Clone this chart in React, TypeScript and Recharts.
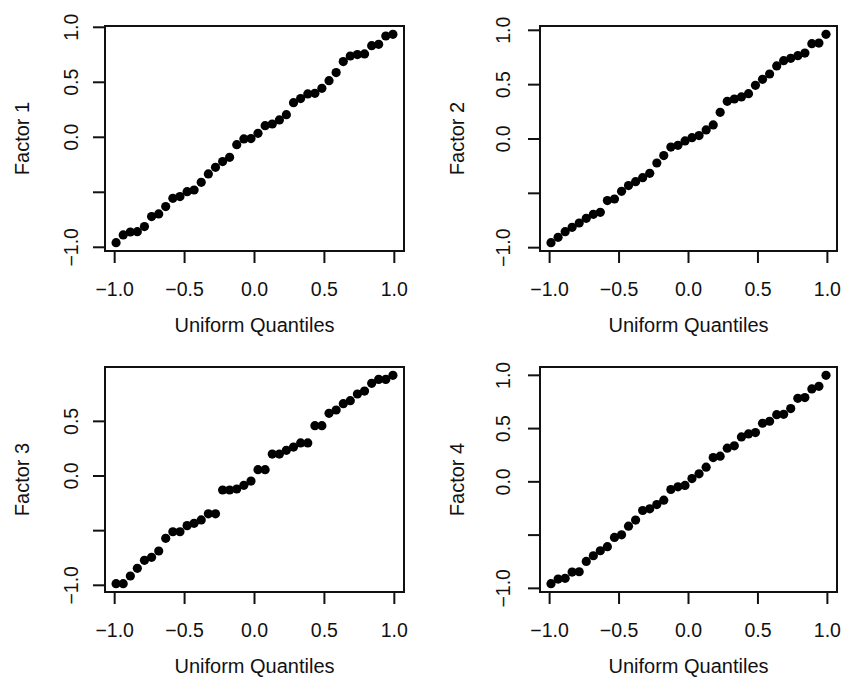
import React from 'react';
import { ScatterChart, Scatter, XAxis, YAxis, ReferenceArea } from 'recharts';

// uniform quantiles shared by all four panels
const quantiles = [
  -0.99, -0.939, -0.888, -0.838, -0.787, -0.736, -0.685, -0.635, -0.584, -0.533,
  -0.482, -0.432, -0.381, -0.33, -0.279, -0.228, -0.178, -0.127, -0.076, -0.025,
  0.025, 0.076, 0.127, 0.178, 0.228, 0.279, 0.33, 0.381, 0.432, 0.482,
  0.533, 0.584, 0.635, 0.685, 0.736, 0.787, 0.838, 0.888, 0.939, 0.99,
];

const factor1 = [
  -0.958, -0.888, -0.861, -0.858, -0.812, -0.721, -0.697, -0.63, -0.555, -0.539,
  -0.494, -0.479, -0.409, -0.333, -0.273, -0.221, -0.182, -0.067, -0.015, -0.012,
  0.036, 0.106, 0.121, 0.158, 0.206, 0.315, 0.352, 0.394, 0.4, 0.445,
  0.515, 0.588, 0.688, 0.739, 0.752, 0.758, 0.833, 0.845, 0.921, 0.936,
];

const factor2 = [
  -0.954, -0.905, -0.853, -0.813, -0.773, -0.73, -0.693, -0.675, -0.567, -0.552,
  -0.482, -0.429, -0.393, -0.356, -0.316, -0.221, -0.153, -0.074, -0.058, -0.018,
  0.012, 0.031, 0.083, 0.129, 0.245, 0.347, 0.368, 0.387, 0.417, 0.494,
  0.549, 0.598, 0.672, 0.721, 0.742, 0.767, 0.791, 0.877, 0.883, 0.963,
];

const factor3 = [
  -0.985, -0.985, -0.915, -0.845, -0.771, -0.744, -0.686, -0.57, -0.51, -0.51,
  -0.454, -0.433, -0.402, -0.346, -0.346, -0.128, -0.128, -0.119, -0.085, -0.046,
  0.058, 0.058, 0.201, 0.201, 0.235, 0.265, 0.303, 0.303, 0.46, 0.46,
  0.573, 0.604, 0.662, 0.689, 0.75, 0.777, 0.848, 0.884, 0.884, 0.921,
];

const factor4 = [
  -0.956, -0.913, -0.906, -0.847, -0.844, -0.747, -0.694, -0.647, -0.609, -0.522,
  -0.497, -0.416, -0.359, -0.269, -0.253, -0.213, -0.172, -0.072, -0.047, -0.034,
  0.031, 0.075, 0.138, 0.228, 0.241, 0.316, 0.338, 0.422, 0.45, 0.463,
  0.55, 0.569, 0.631, 0.634, 0.688, 0.784, 0.791, 0.872, 0.897, 1.0,
];

const xTicks = [-1, -0.5, 0, 0.5, 1];
const xTickLabels = ['\u22121.0', '\u22120.5', '0.0', '0.5', '1.0'];
const yTicks = [-1, -0.5, 0, 0.5, 1];
const yTickLabels = ['\u22121.0', '', '0.0', '0.5', '1.0'];

const FONT = '"Liberation Sans", Arial, Helvetica, sans-serif';
const INK = '#111';

// R-style axis range: data range plus 4% at each end
const padRange = (v: number[]): [number, number] => {
  const lo = Math.min(...v);
  const hi = Math.max(...v);
  const d = (hi - lo) * 0.04;
  return [lo - d, hi + d];
};

const XTick = (props: any) => {
  const { x, y, payload } = props;
  const label = xTickLabels[xTicks.indexOf(payload.value)];
  return (
    <text x={x} y={y} dy="0.35em" textAnchor="middle" fontSize={19.5} fontFamily={FONT} fill={INK}>
      {label}
    </text>
  );
};

const YTick = (props: any) => {
  const { x, y, payload } = props;
  const label = yTickLabels[yTicks.indexOf(payload.value)];
  return (
    <text
      x={x}
      y={y}
      dy="0.35em"
      textAnchor="middle"
      transform={`rotate(-90 ${x} ${y})`}
      fontSize={19.5}
      fontFamily={FONT}
      fill={INK}
    >
      {label}
    </text>
  );
};

const Dot = (props: any) => <circle cx={props.cx} cy={props.cy} r={4.6} fill="#000" />;

interface PanelProps {
  title: string;
  values: number[];
  left: number;
  top: number;
  axisWidth: number;
  plotWidth: number;
  labelGap: number;
}

const Panel: React.FC<PanelProps> = ({ title, values, left, top, axisWidth, plotWidth, labelGap }) => {
  const data = quantiles.map((q, i) => ({ x: q, y: values[i] }));
  const xDomain = padRange(quantiles);
  const yDomain = padRange(values);
  const ticksY = yTicks.filter((t) => t >= yDomain[0] && t <= yDomain[1]);
  const plotHeight = 225;
  const xAxisHeight = 90;
  const marginTop = 26;
  const marginRight = 8;
  const width = axisWidth + plotWidth + marginRight;
  const height = marginTop + plotHeight + xAxisHeight;

  return (
    <div style={{ position: 'absolute', left, top }}>
      <ScatterChart width={width} height={height} margin={{ top: marginTop, right: marginRight, bottom: 0, left: 0 }}>
        <XAxis
          type="number"
          dataKey="x"
          domain={xDomain}
          ticks={xTicks}
          interval={0}
          axisLine={false}
          tickSize={12}
          tickMargin={26}
          tickLine={{ stroke: INK, strokeWidth: 2 }}
          tick={<XTick />}
          height={xAxisHeight}
          label={{
            content: (p: any) => {
              const vb = p.viewBox;
              return (
                <text
                  x={vb.x + vb.width / 2}
                  y={vb.y + 74}
                  dy="0.35em"
                  textAnchor="middle"
                  fontSize={20}
                  fontFamily={FONT}
                  fill={INK}
                >
                  Uniform Quantiles
                </text>
              );
            },
          }}
        />
        <YAxis
          type="number"
          dataKey="y"
          domain={yDomain}
          ticks={ticksY}
          interval={0}
          axisLine={false}
          tickSize={12}
          tickMargin={labelGap - 12}
          tickLine={{ stroke: INK, strokeWidth: 2 }}
          tick={<YTick />}
          width={axisWidth}
          label={{
            content: (p: any) => {
              const vb = p.viewBox;
              const cx = vb.x + vb.width - 83;
              const cy = vb.y + vb.height / 2;
              return (
                <text
                  x={cx}
                  y={cy}
                  dy="0.35em"
                  textAnchor="middle"
                  transform={`rotate(-90 ${cx} ${cy})`}
                  fontSize={20}
                  fontFamily={FONT}
                  fill={INK}
                >
                  {title}
                </text>
              );
            },
          }}
        />
        <ReferenceArea
          x1={xDomain[0]}
          x2={xDomain[1]}
          y1={yDomain[0]}
          y2={yDomain[1]}
          fill="none"
          stroke={INK}
          strokeWidth={2}
          ifOverflow="visible"
        />
        <Scatter data={data} shape={<Dot />} isAnimationActive={false} />
      </ScatterChart>
    </div>
  );
}

export default function App() {
  return (
    <div style={{ position: 'absolute', left: 0, top: 0, width: 845, height: 686, background: '#fff' }}>
      <Panel title="Factor 1" values={factor1} left={0} top={0} axisWidth={105} plotWidth={299} labelGap={34} />
      <Panel title="Factor 2" values={factor2} left={422} top={0} axisWidth={118} plotWidth={297} labelGap={37} />
      <Panel title="Factor 3" values={factor3} left={0} top={341} axisWidth={105} plotWidth={299} labelGap={34} />
      <Panel title="Factor 4" values={factor4} left={422} top={341} axisWidth={118} plotWidth={297} labelGap={37} />
    </div>
  );
}
